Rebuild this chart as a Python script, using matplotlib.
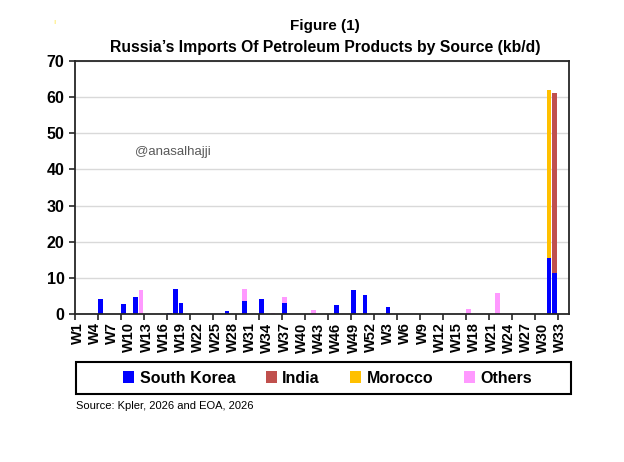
import matplotlib
matplotlib.use("Agg")
import matplotlib.pyplot as plt
from matplotlib.patches import Rectangle
import numpy as np

plt.rcParams["font.family"] = ["Liberation Sans", "DejaVu Sans"]

# week labels: W1..W52 of the first year, then W1..W34 of the next one
weeks = ["W%d" % w for w in range(1, 53)] + ["W%d" % w for w in range(1, 35)]

# kb/d per week
south_korea = [0, 0, 0, 0, 4.3, 0, 0, 0, 2.8, 0, 4.8, 0, 0,
               0, 0, 0, 0.3, 6.9, 3.2, 0, 0, 0, 0, 0, 0, 0,
               0.9, 0, 0, 3.6, 0, 0, 4.3, 0, 0, 0, 3.1, 0, 0,
               0, 0, 0, 0, 0, 0, 2.6, 0, 0, 6.6, 0, 5.4, 0,
               0, 0, 2.1, 0, 0, 0, 0, 0, 0, 0, 0, 0, 0, 0, 0, 0, 0,
               0, 0, 0, 0, 0, 0, 0, 0, 0, 0, 0, 0, 0, 15.6, 11.3, 0, 0]
india = [0] * 52 + [0] * 31 + [49.9, 0, 0]
morocco = [0] * 52 + [0] * 30 + [46.3, 0, 0, 0]
others = [0, 0, 0, 0, 0, 0, 0, 0, 0, 0, 0, 6.6, 0,
          0, 0, 0, 0, 0, 0, 0, 0, 0, 0, 0, 0, 0,
          0, 0, 0, 3.3, 0, 0, 0, 0, 0.3, 0, 1.7, 0, 0,
          0, 0, 1.1, 0, 0, 0, 0, 0, 0, 0, 0, 0, 0,
          0, 0, 0, 0, 0, 0, 0, 0, 0, 0, 0, 0, 0, 0, 0, 0, 1.4,
          0, 0, 0, 0, 5.9, 0, 0, 0, 0, 0, 0, 0, 0, 0, 0, 0, 0]

series = [("South Korea", south_korea, "#0000FF"),
          ("India", india, "#C0504D"),
          ("Morocco", morocco, "#FFC000"),
          ("Others", others, "#FF99FF")]

fig = plt.figure(figsize=(6.24, 4.62), dpi=100)
ax = fig.add_axes([0.120, 0.320, 0.792, 0.548])

x = np.arange(len(weeks))
bottom = np.zeros(len(weeks))
for name, vals, col in series:
    vals = np.array(vals, dtype=float)
    ax.bar(x, vals, width=0.8, bottom=bottom, color=col, label=name, linewidth=0)
    bottom += vals

ax.set_xlim(-0.5, len(weeks) - 0.5)
ax.set_ylim(0, 70)
ax.set_yticks(range(0, 71, 10))
ax.grid(axis="y", color="#D9D9D9", linewidth=1)
ax.set_axisbelow(True)

ax.set_xticks(x[::3])
ax.set_xticklabels(weeks[::3], rotation=90, fontsize=10.5, fontweight="bold")
ax.tick_params(axis="x", which="major", length=0, pad=6)
ax.set_xticks(np.arange(-0.5, len(weeks), 4), minor=True)
ax.tick_params(axis="x", which="minor", length=4, width=1.2, color="#262626")
ax.tick_params(axis="y", length=4, width=1.2, color="#262626", labelsize=11.5)
for lab in ax.get_yticklabels():
    lab.set_fontweight("bold")
for s in ax.spines.values():
    s.set_color("#262626")
    s.set_linewidth(1.3)

ax.text(0.121, 0.642, "@anasalhajji", transform=ax.transAxes, fontsize=9.5,
        color="#595959", va="center")

fig.text(0.521, 0.944, "Figure (1)", ha="center", va="center", fontsize=11, fontweight="bold")
fig.text(0.521, 0.898, "Russia\u2019s Imports Of Petroleum Products by Source (kb/d)",
         ha="center", va="center", fontsize=11.3, fontweight="bold")
fig.text(0.088, 0.952, "\u0131", color="#FFE84D", fontsize=6, ha="center", va="center")

# legend box drawn on its own, entries centred inside it
fig.patches.append(Rectangle((0.122, 0.147), 0.793, 0.069, transform=fig.transFigure,
                             fill=False, edgecolor="black", linewidth=1.5))
leg = fig.legend(loc="center", ncol=4, bbox_to_anchor=(0.525, 0.1815),
                 frameon=False, prop={"weight": "bold", "size": 11.5},
                 handlelength=0.7, handleheight=0.7, handletextpad=0.35,
                 columnspacing=1.9, borderaxespad=0)

fig.text(0.122, 0.122, "Source: Kpler, 2026 and EOA, 2026", fontsize=8, va="center")

fig.savefig("out.png", dpi=100)
